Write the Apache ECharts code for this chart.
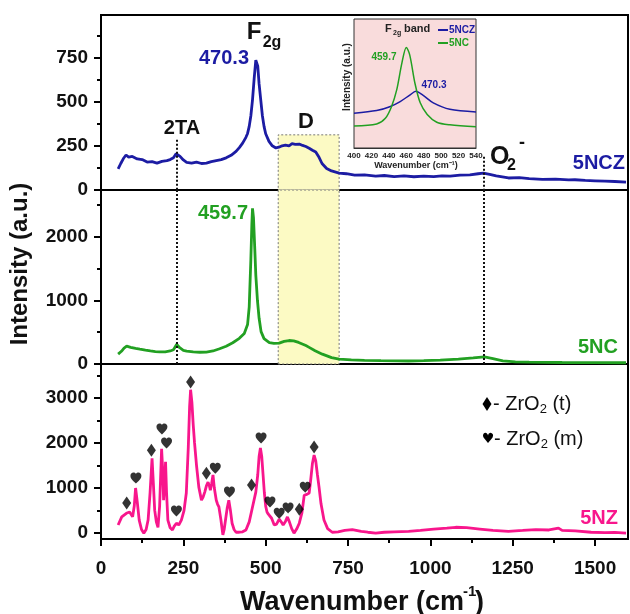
<!DOCTYPE html>
<html><head><meta charset="utf-8">
<script src="https://cdn.jsdelivr.net/npm/echarts@6/dist/echarts.min.js"></script>
<style>html,body{margin:0;padding:0;background:#fff}#c{width:630px;height:614px}</style>
</head><body><div id="c"></div>
<script>
// ---- data ----
const nczX=[52,60,68,76,84,95,110,125,140,155,170,185,200,210,220,228,233,240,250,260,275,290,305,320,335,350,365,380,395,410,420,430,440,445,450,455,460,465,470,473,476,480,485,490,495,500,510,520,531,540,550,560,571,580,590,602,612,622,632,642,652,662,671,685,700,723,745,770,800,834,860,890,920,950,980,1010,1035,1060,1090,1120,1145,1161,1180,1200,1237,1270,1300,1340,1380,1420,1439,1470,1500,1530,1560,1594];
const nczY=[119,150,178,198,186,190,176,172,158,160,152,162,166,172,182,205,212,190,170,156,152,158,150,152,160,166,172,182,196,218,240,265,298,320,360,420,510,630,735,745,700,600,510,420,360,318,275,250,238,242,250,254,250,262,258,260,252,246,236,225,215,185,150,122,108,96,92,84,86,79,82,76,80,75,79,76,80,78,84,86,92,95,88,80,68,70,64,60,62,57,58,54,52,50,48,45];

const ncX=[52,62,70,78,90,105,118,135,150,165,178,195,210,220,230,238,250,260,280,300,320,340,360,380,400,420,435,445,450,455,458,460,463,467,470,475,480,486,495,511,525,541,556,571,585,600,622,632,650,672,700,723,760,800,850,900,934,980,1030,1085,1130,1164,1190,1220,1258,1300,1400,1500,1594];
const ncY=[155,200,250,280,262,245,233,218,205,196,190,192,205,225,310,260,215,202,190,185,188,205,240,280,335,404,480,621,900,1650,2200,2450,2300,1800,1400,1000,720,510,400,335,325,330,355,370,365,340,290,262,210,155,100,78,65,58,52,48,47,52,62,78,95,112,85,50,32,28,24,22,20];

const nzX=[52,63,77,87,96,101,105,110,116,123,130,137,143,149,155,159,163,168,173,178,184,188,190,193,196,199,203,210,217,222,229,236,244,252,259,265,269,272,276,280,284,290,297,305,310,315,320,325,329,332,336,340,344,350,354,358,364,370,374,378,383,388,393,398,404,410,420,430,440,450,460,470,476,480,484,488,492,496,500,504,508,513,518,526,533,541,547,553,560,566,572,579,586,594,602,610,617,625,632,637,642,647,652,657,662,668,677,688,702,720,740,763,790,810,834,860,890,934,970,1010,1050,1077,1110,1150,1190,1237,1280,1320,1360,1389,1400,1440,1488,1530,1560,1594];
const nzY=[180,360,440,470,360,600,1000,700,290,80,0,80,290,900,1660,1100,510,250,130,600,1870,1300,730,1100,1580,900,290,120,70,150,220,180,290,500,890,1900,2800,3180,2900,2400,2000,1500,1020,730,800,910,1050,1130,1050,950,1100,1290,1000,730,640,580,300,-40,80,290,550,730,500,220,80,20,20,30,70,250,580,910,1300,1700,1890,1700,1300,890,600,470,420,440,330,180,200,310,250,180,260,360,250,100,0,90,220,450,840,860,890,1200,1550,1730,1600,1300,1020,650,290,100,20,30,60,80,40,20,0,20,30,40,60,90,110,130,120,90,60,40,60,80,70,110,60,50,20,10,15,0];

const tetraMarks=[[78,670],[153,1840],[272,3350],[320,1330],[457,1070],[602,530],[647,1910]];
const monoMarks=[[106,1220],[185,2310],[199,2000],[229,490],[347,1440],[390,910],[486,2110],[513,690],[541,440],[568,560],[620,1020]];

const insetX=[400,426,436,443,449,455,460,464,470,476,484,495,510,540];
const insetNC=[17,18.6,23,32,45,66,78,72,50,35,26,20,18,16.5];
const insetXb=[400,426,441,453,464,471,479,491,510,540];
const insetNCZ=[27,29,32,36,41,44,41,35,30,28];

const xTicks=[0,250,500,750,1000,1250,1500];
const xMinor=[125,375,625,875,1125,1375];
const y1Ticks=[0,250,500,750], y1Minor=[125,375,625,875];
const y2Ticks=[0,1000,2000], y2Minor=[500,1500,2500];
const y3Ticks=[0,1000,2000,3000], y3Minor=[500,1500,2500,3500];
const insetTicks=[400,420,440,460,480,500,520,540];
const peakD=[538,723], lines2TA=230, lineO2=1163;

// ---- chart ----
const BLUE='#1c1ca3', GREEN='#22a022', PINK='#f8168c';
const FF='"Liberation Sans", Arial, sans-serif';
const zip=(a,b)=>a.map((v,i)=>[v,b[i]]);
const plain=v=>String(v);
const chart=echarts.init(document.getElementById('c'),null,{renderer:'canvas'});

function hx(grid, show){
  return {type:'value',gridIndex:grid,min:0,max:1600,position:'bottom',
    axisLine:{show:true,onZero:false,lineStyle:{color:'#000',width:2}},
    axisTick:{show:show,length:7,inside:false,customValues:xTicks,lineStyle:{color:'#000',width:2}},
    axisLabel:{show:show,customValues:xTicks,formatter:plain,margin:20,color:'#111',fontSize:19,fontWeight:'bold',fontFamily:FF},
    splitLine:{show:false}};
}
function mainY(grid,min,max,ticks){
  return {type:'value',gridIndex:grid,min:min,max:max,position:'left',
    axisLine:{show:true,onZero:false,lineStyle:{color:'#000',width:2}},
    axisTick:{show:true,length:7,customValues:ticks,lineStyle:{color:'#000',width:2}},
    axisLabel:{show:true,customValues:ticks,formatter:plain,margin:13,color:'#111',fontSize:19,fontWeight:'bold',fontFamily:FF},
    splitLine:{show:false}};
}
function minorY(grid,min,max,ticks){
  return {type:'value',gridIndex:grid,min:min,max:max,position:'left',offset:0,
    axisLine:{show:false,onZero:false},
    axisTick:{show:true,length:4,customValues:ticks,lineStyle:{color:'#000',width:2}},
    axisLabel:{show:false},splitLine:{show:false}};
}
const heart='path://M12 21.35l-1.45-1.32C5.4 15.36 2 12.28 2 8.5 2 5.42 4.42 3 7.5 3c1.74 0 3.41.81 4.5 2.09C13.09 3.81 14.76 3 16.5 3 19.58 3 22 5.42 22 8.5c0 3.78-3.4 6.86-8.55 11.54L12 21.35z';
const dotted={color:'#111',type:[2,2],width:2};

function txt(x,y,text,size,color,align,weight,extra){
  return Object.assign({type:'text',x:x,y:y,z:100,style:{text:text,fill:color||'#111',
    font:(weight||'bold')+' '+size+'px '+FF,align:align||'center',verticalAlign:'middle'}},extra||{});
}
function legendTxt(x,y,label){
  return {type:'text',x:x,y:y,z:100,style:{
    text:'{a|- ZrO}{s|2}{a| '+label+'}',align:'left',verticalAlign:'middle',fill:'#111',
    rich:{a:{fontSize:20,fontFamily:FF,lineHeight:24,verticalAlign:'middle',fill:'#111'},
          s:{fontSize:13,fontFamily:FF,lineHeight:13,verticalAlign:'bottom',fill:'#111'}}}};
}

const option={
  animation:false,
  backgroundColor:'#fff',
  grid:[
    {left:101,right:2,top:15,height:175,show:true,borderColor:'#000',borderWidth:2},
    {left:101,right:2,top:190,height:174,show:true,borderColor:'#000',borderWidth:2},
    {left:101,right:2,top:364,height:175,show:true,borderColor:'#000',borderWidth:2},
    {left:354,top:19,width:122,height:129,show:true,backgroundColor:'#f9dcdc',borderColor:'#333',borderWidth:1,z:5}
  ],
  xAxis:[
    hx(0,false),hx(1,false),hx(2,true),
    {type:'value',gridIndex:2,min:0,max:1600,position:'bottom',axisLine:{show:false,onZero:false},
      axisTick:{show:true,length:4,customValues:xMinor,lineStyle:{color:'#000',width:2}},axisLabel:{show:false},splitLine:{show:false}},
    {type:'value',gridIndex:3,min:400,max:540,z:6,position:'bottom',
      axisLine:{show:true,onZero:false,lineStyle:{color:'#333',width:1}},
      axisTick:{show:false,customValues:insetTicks},
      axisLabel:{show:true,customValues:insetTicks,margin:4,fontSize:8,fontWeight:'bold',color:'#222',fontFamily:FF},
      splitLine:{show:false}}
  ],
  yAxis:[
    mainY(0,0,990,y1Ticks),minorY(0,0,990,y1Minor),
    mainY(1,0,2740,y2Ticks),minorY(1,0,2740,y2Minor),
    mainY(2,-130,3750,y3Ticks),minorY(2,-130,3750,y3Minor),
    {type:'value',gridIndex:3,min:0,max:100,show:false,splitLine:{show:false}}
  ],
  series:[
    {name:'5NCZ',type:'line',xAxisIndex:0,yAxisIndex:0,data:zip(nczX,nczY),showSymbol:false,
      lineStyle:{color:BLUE,width:2.8},itemStyle:{color:BLUE},z:3,
      markArea:{silent:true,itemStyle:{color:'#fcfac4',borderColor:'#777',borderWidth:1,borderType:[2,2]},
        data:[[{xAxis:peakD[0],yAxis:0},{xAxis:peakD[1],yAxis:312}]]},
      markLine:{silent:true,symbol:'none',label:{show:false},lineStyle:dotted,
        data:[[{coord:[lines2TA,284]},{coord:[lines2TA,0]}],[{coord:[lineO2,188]},{coord:[lineO2,0]}]]}},
    {name:'5NC',type:'line',xAxisIndex:1,yAxisIndex:2,data:zip(ncX,ncY),showSymbol:false,
      lineStyle:{color:GREEN,width:2.8},itemStyle:{color:GREEN},z:3,
      markArea:{silent:true,itemStyle:{color:'#fcfac4',borderColor:'#777',borderWidth:1,borderType:[2,2]},
        data:[[{xAxis:peakD[0]},{xAxis:peakD[1]}]]},
      markLine:{silent:true,symbol:'none',label:{show:false},lineStyle:dotted,
        data:[{xAxis:lines2TA},{xAxis:lineO2}]}},
    {name:'5NZ',type:'line',xAxisIndex:2,yAxisIndex:4,data:zip(nzX,nzY),showSymbol:false,
      lineStyle:{color:PINK,width:2.8},itemStyle:{color:PINK},z:3},
    {name:'ZrO2 (t)',type:'scatter',xAxisIndex:2,yAxisIndex:4,data:tetraMarks,symbol:'diamond',symbolSize:[9,13],
      itemStyle:{color:'#000'},z:4},
    {name:'ZrO2 (m)',type:'scatter',xAxisIndex:2,yAxisIndex:4,data:monoMarks,symbol:heart,symbolSize:[11,11],
      itemStyle:{color:'#000'},z:4},
    {name:'inset 5NCZ',type:'line',xAxisIndex:4,yAxisIndex:6,data:zip(insetXb,insetNCZ),showSymbol:false,smooth:0.3,
      lineStyle:{color:BLUE,width:1.5},z:7},
    {name:'inset 5NC',type:'line',xAxisIndex:4,yAxisIndex:6,data:zip(insetX,insetNC),showSymbol:false,smooth:0.3,
      lineStyle:{color:GREEN,width:1.5},z:7}
  ],
  graphic:[
    txt(224,58,'470.3',20,BLUE),
    txt(254,32,'F',24,'#111'),
    txt(272,43,'2g',16,'#111'),
    txt(182,128,'2TA',20,'#111'),
    txt(306,122,'D',22,'#111'),
    txt(490,157,'O',25,'#111','left'),
    txt(507,166,'2',16,'#111','left'),
    txt(519,143,'-',18,'#111','left'),
    txt(625,163,'5NCZ',20,BLUE,'right'),
    txt(223,213,'459.7',20,GREEN),
    txt(618,347,'5NC',20,GREEN,'right'),
    txt(618,518,'5NZ',20,PINK,'right'),
    // bottom legend
    {type:'polygon',z:100,shape:{points:[[487,397],[491.5,404],[487,411],[482.5,404]]},style:{fill:'#000'}},
    legendTxt(493,404,'(t)'),
    {type:'text',x:488,y:439,z:100,style:{text:'\u2665',fill:'#000',font:'14px "DejaVu Sans", sans-serif',align:'center',verticalAlign:'middle'}},
    legendTxt(494,439,'(m)'),
    // axis titles
    txt(20,264,'Intensity (a.u.)',24,'#111','center','bold',{rotation:Math.PI/2}),
    txt(240,603,'Wavenumber (cm',27,'#111','left'),
    txt(463,592,'-1',15,'#111','left'),
    txt(475,603,')',27,'#111','left'),
    // inset texts
    txt(385,29,'F',11,'#222','left'),
    txt(393,33,'2g',7,'#222','left'),
    txt(404,29,'band',11,'#222','left'),
    {type:'line',z:100,shape:{x1:438,y1:30,x2:448,y2:30},style:{stroke:BLUE,lineWidth:2}},
    txt(449,30,'5NCZ',10,BLUE,'left'),
    {type:'line',z:100,shape:{x1:438,y1:43,x2:448,y2:43},style:{stroke:GREEN,lineWidth:2}},
    txt(449,43,'5NC',10,GREEN,'left'),
    txt(384,57,'459.7',10,GREEN),
    txt(434,85,'470.3',10,BLUE),
    txt(416,166,'Wavenumber (cm\u207B\u00B9)',9,'#222'),
    txt(347,77,'Intensity (a.u.)',10,'#222','center','bold',{rotation:Math.PI/2})
  ]
};
chart.setOption(option);
</script></body></html>
